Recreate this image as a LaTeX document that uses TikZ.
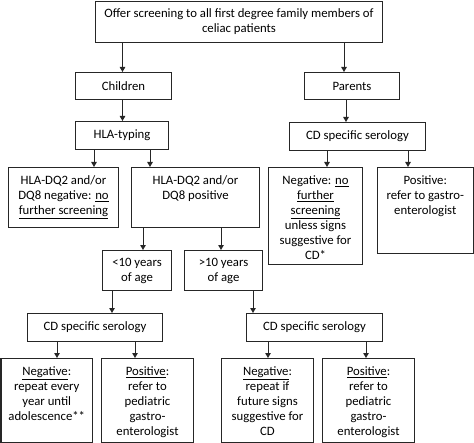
\documentclass[tikz,border=0pt]{standalone}
\usepackage{fontspec}
\setmainfont{Carlito}
\usetikzlibrary{arrows.meta}
\newcommand\tb[4]{\parbox[c][#2bp][t]{#1bp}{\centering\vspace*{#3bp}#4\par}}
\newcommand\cb[3]{\parbox[c][#2bp][c]{#1bp}{\centering #3\par}}
\tikzset{
  box/.style={draw=black!85, line width=1bp, inner sep=0pt, anchor=north west, font=\fontsize{12.8}{15}\selectfont},
  arr/.style={draw=black!85, line width=1bp, -{Triangle[length=5bp,width=5.5bp]}}
}
\begin{document}
\begin{tikzpicture}[x=1bp,y=-1bp]
\useasboundingbox (0,0) rectangle (474,443);
\node[box] (top) at (95,1) {\cb{287}{41}{Offer screening to all first degree family members of\\celiac patients}};
\node[box] (children) at (75,72) {\cb{96}{27}{Children}};
\node[box] (parents) at (304,72) {\cb{95}{27}{Parents}};
\node[box] (hla) at (75,121) {\cb{93}{28}{HLA-typing}};
\node[box] (ser1) at (289,122) {\cb{136}{28}{CD specific serology}};
\node[box] (neg1) at (8,167) {\tb{110}{60}{8.5}{HLA-DQ2 and/or\\DQ8 negative: \underline{no}\\\underline{further screening}}};
\node[box] (pos1) at (131,167) {\tb{128}{60}{8.5}{HLA-DQ2 and/or\\DQ8 positive}};
\node[box] (pneg) at (268,167) {\tb{94}{97}{8.5}{Negative: \underline{no}\\\underline{further}\\\underline{screening}\\unless signs\\suggestive for\\CD*}};
\node[box] (ppos) at (377,167) {\tb{95.5}{86}{8.5}{Positive:\\refer to gastro-\\enterologist}};
\node[box] (lt10) at (102,250) {\cb{69}{40}{<10 years\\of age}};
\node[box] (gt10) at (184,250) {\cb{78}{40}{>10 years\\of age}};
\node[box] (ser2) at (27,313) {\cb{135}{28}{CD specific serology}};
\node[box] (ser3) at (246,313) {\cb{136}{28}{CD specific serology}};
\node[box] (bneg1) at (0.5,358) {\tb{91.5}{84}{8.5}{\underline{Negative}:\\repeat every\\year until\\adolescence**}};
\node[box] (bpos1) at (101,358) {\tb{92}{84}{8.5}{\underline{Positive}:\\refer to\\pediatric\\gastro-\\enterologist}};
\node[box] (bneg2) at (221,358) {\tb{92}{84}{8.5}{\underline{Negative}:\\repeat if\\future signs\\suggestive for\\CD}};
\node[box] (bpos2) at (322,358) {\tb{92}{84}{8.5}{\underline{Positive}:\\refer to\\pediatric\\gastro-\\enterologist}};
% connectors
\draw[arr] ([xshift=-1bp]children.north |- top.south) -- ([xshift=-1bp]children.north);
\draw[arr] ([xshift=-8bp]parents.north |- top.south) -- ([xshift=-8bp]parents.north);
\draw[arr] ([xshift=-1bp]children.south) -- ([xshift=-1bp]children.south |- hla.north);
\draw[arr] ([xshift=-6bp]parents.south) -- ([xshift=-6bp]parents.south |- ser1.north);
\draw[arr] ([xshift=19bp]hla.south west) -- ([xshift=19bp]hla.south west |- neg1.north);
\draw[arr] ([xshift=75bp]hla.south west) -- ([xshift=75bp]hla.south west |- pos1.north);
\draw[arr] ([xshift=38bp]ser1.south west) -- ([xshift=38bp]ser1.south west |- pneg.north);
\draw[arr] ([xshift=119bp]ser1.south west) -- ([xshift=119bp]ser1.south west |- ppos.north);
\draw[arr] ([xshift=12bp]pos1.south west) -- ([xshift=12bp]pos1.south west |- lt10.north);
\draw[arr] ([xshift=90bp]pos1.south west) -- ([xshift=90bp]pos1.south west |- gt10.north);
\draw[arr] ([xshift=10bp]lt10.south west) -- ([xshift=10bp]lt10.south west |- ser2.north);
\draw[arr] ([xshift=69bp]gt10.south west) -- ([xshift=69bp]gt10.south west |- ser3.north);
\draw[arr] ([xshift=30bp]ser2.south west) -- ([xshift=30bp]ser2.south west |- bneg1.north);
\draw[arr] ([xshift=108bp]ser2.south west) -- ([xshift=108bp]ser2.south west |- bpos1.north);
\draw[arr] ([xshift=22bp]ser3.south west) -- ([xshift=22bp]ser3.south west |- bneg2.north);
\draw[arr] ([xshift=120bp]ser3.south west) -- ([xshift=120bp]ser3.south west |- bpos2.north);
\end{tikzpicture}
\end{document}
